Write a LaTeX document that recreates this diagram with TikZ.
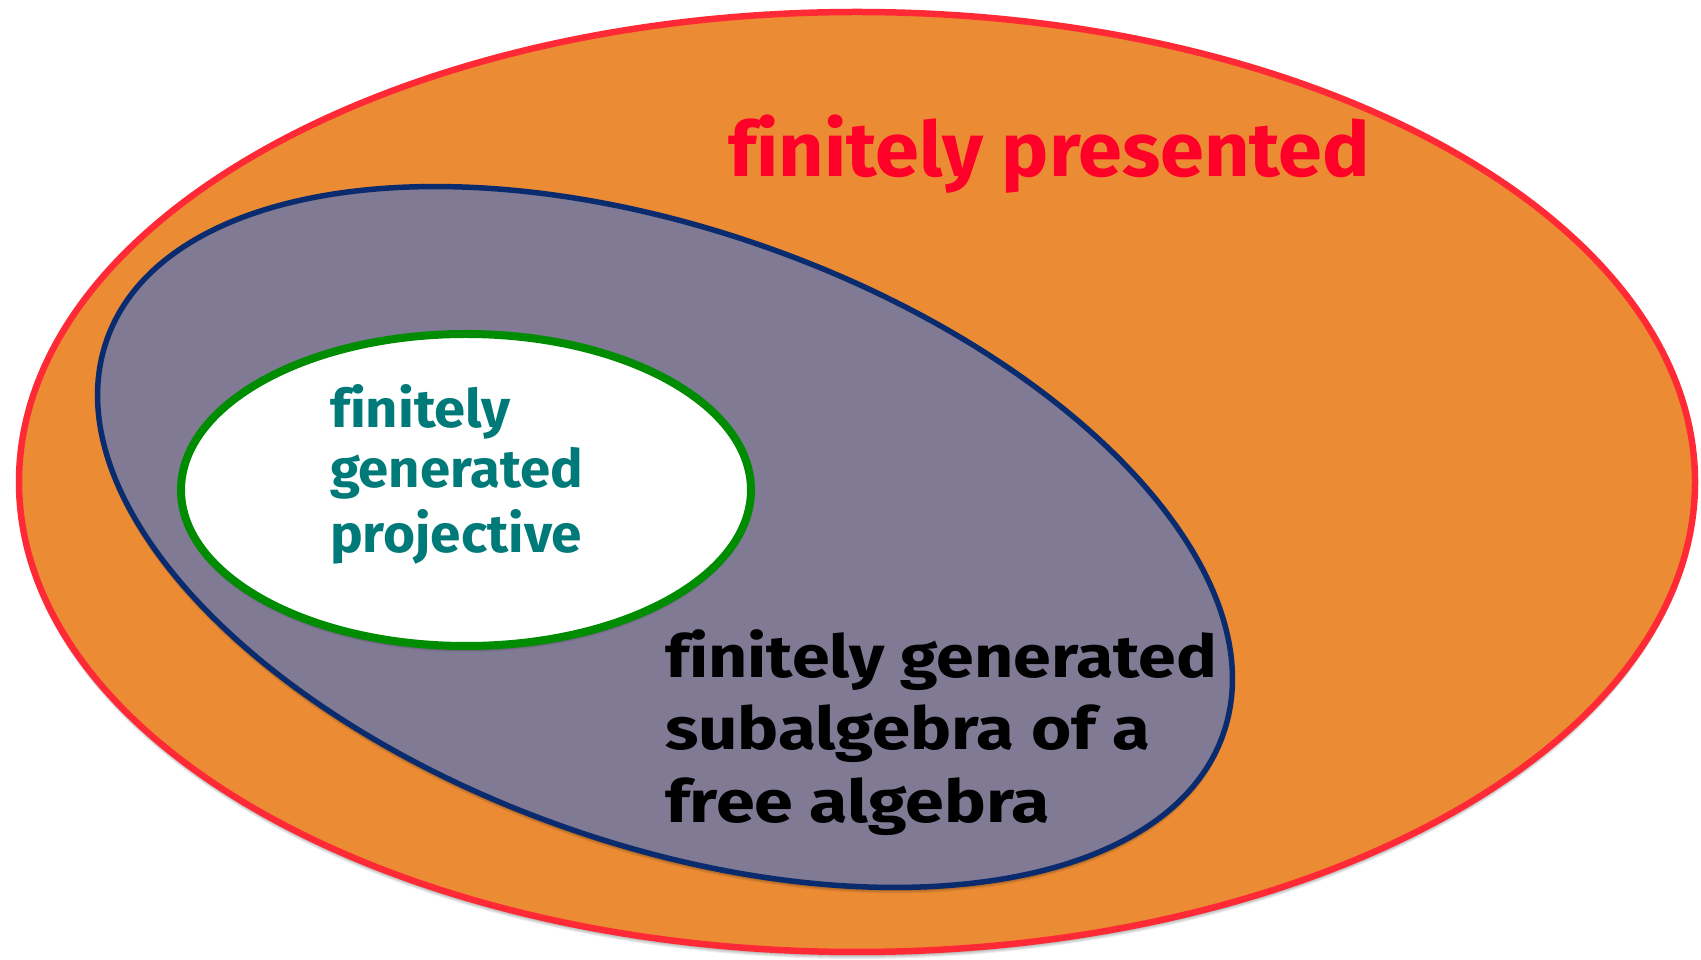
\documentclass[tikz,border=0pt]{standalone}
\usepackage{fontspec}
\setmainfont[Ligatures=NoCommon]{Fira Sans}
\usepackage{graphicx}
\definecolor{outerfill}{HTML}{EB8C35}
\definecolor{outerline}{HTML}{FF2A35}
\definecolor{midfill}{HTML}{807A94}
\definecolor{midline}{HTML}{0A2C6E}
\definecolor{innerline}{HTML}{008C00}
\definecolor{redtext}{HTML}{FF0028}
\definecolor{tealtext}{HTML}{007A78}
\newcommand{\fitw}[2]{\resizebox{#1}{\height}{#2}}
\tikzset{
  shadowlayer/.style={fill=black, fill opacity=0.07, draw=none},
  lbl/.style={anchor=base west, inner sep=0pt, outer sep=0pt, font=\bfseries},
  redlbl/.style={lbl, text=redtext, font=\fontsize{76}{90}\selectfont\bfseries},
  teallbl/.style={lbl, text=tealtext, font=\fontsize{53}{62}\selectfont\bfseries},
  blacklbl/.style={lbl, text=black, font=\fontsize{59}{72}\selectfont\bfseries},
}
\begin{document}
\begin{tikzpicture}[x=1pt,y=1pt]
\useasboundingbox (0,0) rectangle (1701,959);
% outer ellipse
\foreach \d in {1,2,3,4,5,6}
  \fill[shadowlayer] (857,{477-\d}) ellipse [x radius=839, y radius=471];
\draw[line width=6.5pt, draw=outerline, fill=outerfill] (857,477) ellipse [x radius=838, y radius=470];
% middle ellipse
\foreach \d in {1,2,3,4,5}
  \fill[shadowlayer, rotate around={-19.5:(665,{422-\d})}] (665,{422-\d}) ellipse [x radius=593, y radius=308];
\draw[line width=5.5pt, draw=midline, fill=midfill, rotate around={-19.5:(665,422)}] (665,422) ellipse [x radius=592, y radius=307];
% inner ellipse
\foreach \d in {1,2,3,4,5}
  \fill[shadowlayer] (466,{469-\d}) ellipse [x radius=286, y radius=157];
\draw[line width=8pt, draw=innerline, fill=white] (466,469) ellipse [x radius=285, y radius=156];
% labels
\node[redlbl] (fp) at (728,782) {\fitw{642pt}{finitely presented}};
\node[teallbl] (t1) at (330,531) {\fitw{181pt}{finitely}};
\node[teallbl] (t2) at (330,471) {\fitw{253pt}{generated}};
\node[teallbl] (t3) at (330,406) {\fitw{252pt}{projective}};
\node[blacklbl] (b1) at (665,281) {\fitw{552pt}{finitely generated}};
\node[blacklbl] (b2) at (665,209) {\fitw{485pt}{subalgebra of a}};
\node[blacklbl] (b3) at (665,136) {\fitw{385pt}{free algebra}};
\end{tikzpicture}
\end{document}
